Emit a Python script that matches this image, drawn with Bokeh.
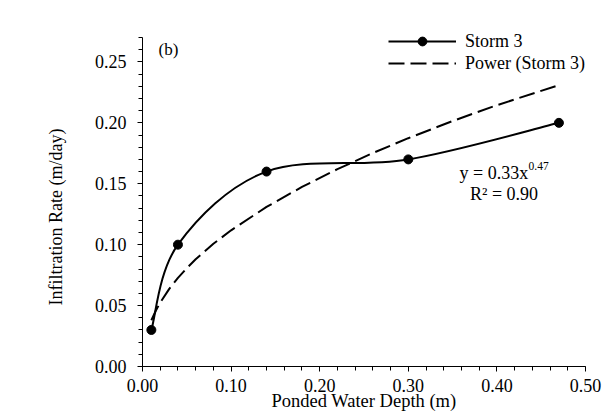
import numpy as np
from bokeh.plotting import figure
from bokeh.models import (SingleIntervalTicker, NumeralTickFormatter, Legend,
                          LegendItem, Label, Range1d, Title)
from bokeh.embed import file_html
from bokeh.resources import INLINE

# ---- data ----
depth = [0.01, 0.04, 0.14, 0.30, 0.47]          # Ponded water depth (m)
rate = [0.03, 0.10, 0.16, 0.17, 0.20]           # Infiltration rate (m/day)

# power trendline (y = 0.33x^0.47)
trend_depth = [0.01, 0.015, 0.02, 0.03, 0.04, 0.05, 0.06, 0.08, 0.10, 0.14,
               0.18, 0.22, 0.26, 0.30, 0.35, 0.40, 0.47]
trend_rate = [0.038, 0.0458, 0.0525, 0.0635, 0.0727, 0.0807, 0.088, 0.1007,
              0.1118, 0.131, 0.1474, 0.162, 0.1752, 0.1874, 0.2015, 0.2145, 0.231]

x_ticks_interval = 0.10
y_ticks_interval = 0.05
y_axis_max = 0.27

FONT = "Liberation Serif"

# frame top is a few px above the axis top so the legend is not clipped
p = figure(width=611, height=414, output_backend="svg", toolbar_location=None,
           x_range=Range1d(0, 0.5), y_range=Range1d(0, 0.2758),
           min_border_left=142, min_border_right=26, min_border_top=30,
           min_border_bottom=48)
p.outline_line_color = None
p.xgrid.visible = False
p.ygrid.visible = False
p.background_fill_color = "white"
p.border_fill_color = "white"

# smoothed line (Catmull-Rom style Bezier segments built from the data points)
px = np.array(depth)
py = np.array(rate)
xp = np.concatenate([[px[0]], px, [px[-1]]])
yp = np.concatenate([[py[0]], py, [py[-1]]])
n = len(px)
cx0 = xp[1:n] + (xp[2:n + 1] - xp[0:n - 1]) / 6
cy0 = yp[1:n] + (yp[2:n + 1] - yp[0:n - 1]) / 6
cx1 = xp[2:n + 1] - (xp[3:n + 2] - xp[1:n]) / 6
cy1 = yp[2:n + 1] - (yp[3:n + 2] - yp[1:n]) / 6
bez = p.bezier(x0=px[:-1], y0=py[:-1], x1=px[1:], y1=py[1:],
               cx0=cx0, cy0=cy0, cx1=cx1, cy1=cy1,
               line_color="black", line_width=2)
sc = p.scatter(depth, rate, size=9, fill_color="black", line_color="black")

tl = p.line(trend_depth, trend_rate, line_color="black", line_width=2,
            line_dash="16 6")

# axes
for ax, interval in ((p.xaxis[0], x_ticks_interval), (p.yaxis[0], y_ticks_interval)):
    ax.ticker = SingleIntervalTicker(interval=interval, num_minor_ticks=5)
    ax.formatter = NumeralTickFormatter(format="0.00")
    ax.axis_line_color = "black"
    ax.major_tick_line_color = "black"
    ax.minor_tick_line_color = "black"
    ax.major_tick_in = 0
    ax.major_tick_out = 5
    ax.minor_tick_in = 0
    ax.minor_tick_out = 4
    ax.major_label_text_font = FONT
    ax.major_label_text_font_size = "18px"
    ax.major_label_text_color = "black"
    ax.axis_label_text_font = FONT
    ax.axis_label_text_font_size = "18.5px"
    ax.axis_label_text_font_style = "normal"
    ax.axis_label_text_color = "black"
p.yaxis[0].bounds = (0, y_axis_max)
p.xaxis[0].axis_label = "Ponded Water Depth (m)"
p.xaxis[0].major_label_standoff = 7
p.xaxis[0].axis_label_standoff = -4
p.yaxis[0].major_label_standoff = 11

# y-axis title as a side title, started a fixed distance above the frame bottom
ytitle = Title(text="Infiltration Rate (m/day)", align="left", offset=61,
               standoff=51, vertical_align="bottom", text_font=FONT,
               text_font_size="18px", text_font_style="normal",
               text_color="black")
p.add_layout(ytitle, "left")

# panel label
p.add_layout(Label(x=16, y=317, x_units="screen", y_units="screen", text="(b)",
                   text_align="left", text_baseline="middle", text_font=FONT,
                   text_font_size="17px", text_color="black"))

# equation
p.add_layout(Label(x=317, y=194, x_units="screen", y_units="screen",
                   text="y = 0.33x", text_align="left", text_baseline="middle",
                   text_font=FONT, text_font_size="18px", text_color="black"))
p.add_layout(Label(x=386, y=201, x_units="screen", y_units="screen",
                   text="0.47", text_align="left", text_baseline="middle",
                   text_font=FONT, text_font_size="11.5px", text_color="black"))
p.add_layout(Label(x=361.5, y=173, x_units="screen", y_units="screen",
                   text="R² = 0.90", text_align="center", text_baseline="middle",
                   text_font=FONT, text_font_size="18px", text_color="black"))

legend = Legend(items=[LegendItem(label="Storm 3", renderers=[bez, sc]),
                       LegendItem(label="Power (Storm 3)", renderers=[tl])],
                location=(246, 292), glyph_width=68, glyph_height=22,
                label_height=22, label_standoff=9, padding=0, margin=0,
                spacing=0, border_line_color=None, background_fill_alpha=0,
                label_text_font=FONT, label_text_font_size="18px",
                label_text_color="black")
p.add_layout(legend)

open("out.html", "w").write(file_html(p, INLINE))
